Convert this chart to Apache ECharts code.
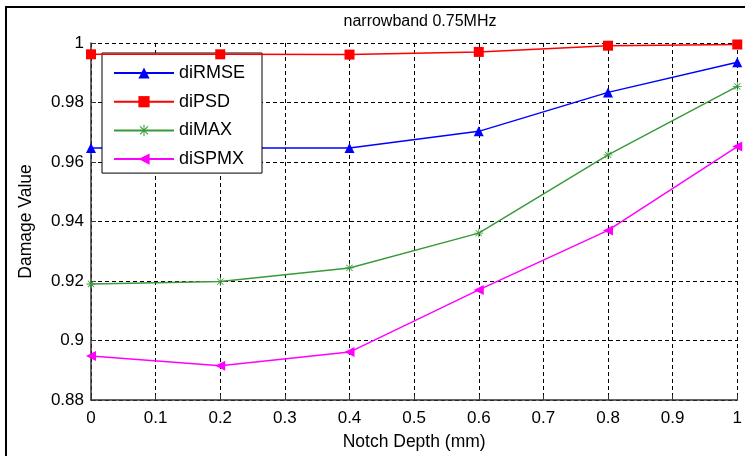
<!DOCTYPE html>
<html>
<head>
<meta charset="utf-8">
<script src="https://cdn.jsdelivr.net/npm/echarts@6/dist/echarts.min.js"></script>
<style>
html,body{margin:0;padding:0;background:#fff;}
#chart{width:745px;height:456px;}
</style>
</head>
<body>
<div id="chart"></div>
<script>
var depths = [0, 0.2, 0.4, 0.6, 0.8, 1.0];
var diRMSE = [0.9647, 0.9647, 0.9647, 0.9703, 0.9834, 0.9935];
var diPSD  = [0.9962, 0.9962, 0.9961, 0.9970, 0.9991, 0.9995];
var diMAX  = [0.9190, 0.9198, 0.9244, 0.9361, 0.9624, 0.9854];
var diSPMX = [0.8948, 0.8915, 0.8961, 0.9170, 0.9370, 0.9652];
var seriesNames = ['diRMSE', 'diPSD', 'diMAX', 'diSPMX'];
var yTickLabels = ['0.88', '0.9', '0.92', '0.94', '0.96', '0.98', '1'];
var xTickLabels = ['0', '0.1', '0.2', '0.3', '0.4', '0.5', '0.6', '0.7', '0.8', '0.9', '1'];
var titleText = 'narrowband 0.75MHz';

var FONT = 'Liberation Sans';
var asterisk = 'path://M-0.09,-1 L0.09,-1 L0.09,1 L-0.09,1 Z M-1,-0.09 L1,-0.09 L1,0.09 L-1,0.09 Z M-0.636,-0.764 L0.764,0.636 L0.636,0.764 L-0.764,-0.636 Z M0.636,-0.764 L0.764,-0.636 L-0.636,0.764 L-0.764,0.636 Z';
var leftTri = 'path://M0,5 L10,0 L10,10 Z';

function pairs(arr) { return depths.map(function (d, i) { return [d, arr[i]]; }); }

var styles = [
  {color: '#0000ff', symbol: 'triangle', size: 10},
  {color: '#ff0000', symbol: 'rect', size: 10},
  {color: '#3a9a3a', symbol: asterisk, size: 9},
  {color: '#ff00ff', symbol: leftTri, size: 10}
];
var dataArr = [diRMSE, diPSD, diMAX, diSPMX];

var chart = echarts.init(document.getElementById('chart'), null, {renderer: 'canvas'});
chart.setOption({
  backgroundColor: '#ffffff',
  animation: false,
  title: {
    text: titleText,
    left: 415, top: 9, textAlign: 'center',
    textStyle: {fontFamily: FONT, fontSize: 16, fontWeight: 'normal', color: '#000'}
  },
  grid: {left: 91, right: 5, top: 43, bottom: 56, containLabel: false},
  legend: {
    orient: 'vertical',
    left: 102, top: 53,
    padding: [11, 17, 5, 11],
    itemWidth: 60, itemHeight: 14, itemGap: 10.7,
    backgroundColor: '#ffffff',
    borderColor: '#000000', borderWidth: 1,
    textStyle: {fontFamily: FONT, fontSize: 18, color: '#000'},
    data: seriesNames
  },
  xAxis: {
    type: 'value', min: 0, max: 1, interval: 0.1,
    name: 'Notch Depth (mm)', nameLocation: 'middle', nameGap: 33,
    nameTextStyle: {fontFamily: FONT, fontSize: 17.5, color: '#000'},
    axisLine: {show: true, onZero: false, lineStyle: {color: '#333', width: 1.5}},
    axisTick: {show: true, inside: true, length: 5, lineStyle: {color: '#333'}},
    axisLabel: {fontFamily: FONT, fontSize: 17, color: '#000', margin: 10,
      formatter: function (v) { return xTickLabels[Math.round(v * 10)]; }},
    splitLine: {show: true, lineStyle: {color: '#000', type: [4, 3], width: 1}}
  },
  yAxis: {
    type: 'value', min: 0.88, max: 1, interval: 0.02,
    name: 'Damage Value', nameLocation: 'middle', nameGap: 56,
    nameTextStyle: {fontFamily: FONT, fontSize: 17.5, color: '#000'},
    axisLine: {show: true, onZero: false, lineStyle: {color: '#333', width: 1.5}},
    axisTick: {show: true, inside: true, length: 5, lineStyle: {color: '#333'}},
    axisLabel: {fontFamily: FONT, fontSize: 17, color: '#000', margin: 7,
      formatter: function (v) { return yTickLabels[Math.round((v - 0.88) / 0.02)]; }},
    splitLine: {show: true, lineStyle: {color: '#000', type: [4, 3], width: 1}}
  },
  series: seriesNames.map(function (n, i) {
    return {
      name: n, type: 'line', data: pairs(dataArr[i]),
      symbol: styles[i].symbol, symbolSize: styles[i].size,
      showAllSymbol: true, clip: false,
      lineStyle: {color: styles[i].color, width: 1.5},
      itemStyle: {color: styles[i].color},
      z: 3 + i
    };
  }),
  graphic: [{
    type: 'polyline', z: 100,
    shape: {points: [[6, 460], [6, 7], [750, 7]]},
    style: {stroke: '#000', lineWidth: 2, fill: null}
  }]
});
</script>
</body>
</html>
